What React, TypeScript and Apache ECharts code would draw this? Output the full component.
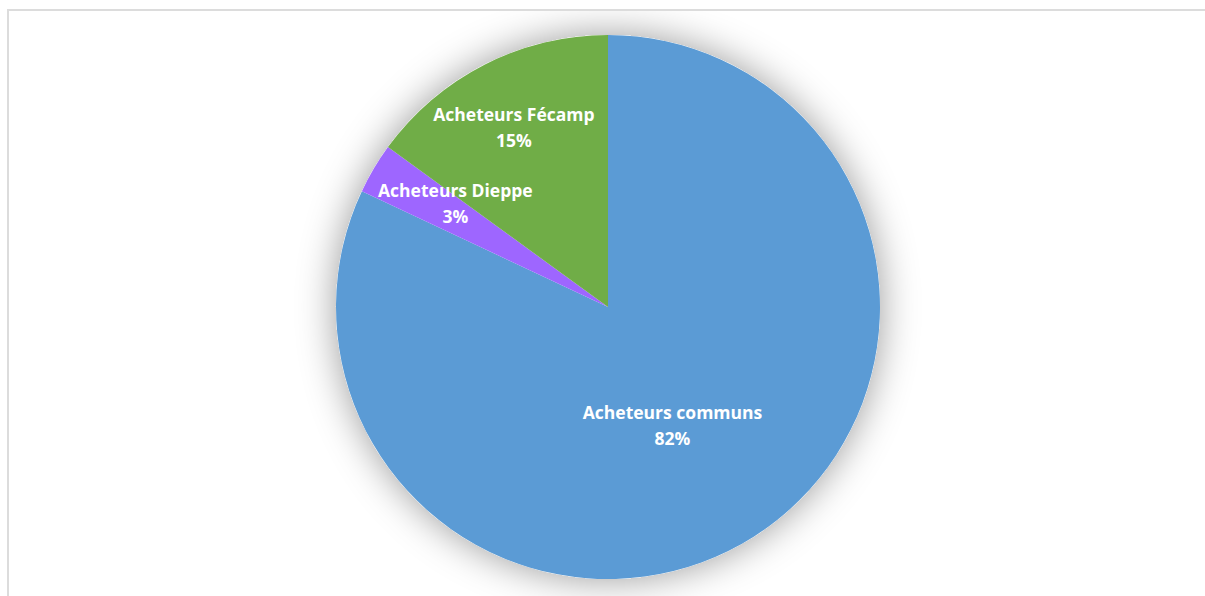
import React, { useEffect, useRef } from "react";
import * as echarts from "echarts";

const categories = ["Acheteurs communs", "Acheteurs Dieppe", "Acheteurs Fécamp"];
const values = [82, 3, 15];
const colors = ["#5B9BD5", "#9E66FF", "#70AD47"];
const labelOffsets: number[][] = [
  [-10, 1],
  [-33, -33],
  [-31, -56],
];

export default function App() {
  const ref = useRef<HTMLDivElement>(null);
  useEffect(() => {
    if (!ref.current) return;
    const chart = echarts.init(ref.current, undefined, { renderer: "svg" });
    chart.setOption({
      animation: false,
      backgroundColor: "#ffffff",
      series: [
        {
          type: "pie",
          silent: true,
          center: [599, 296],
          radius: 272,
          startAngle: 90,
          label: { show: false },
          labelLine: { show: false },
          itemStyle: {
            color: "#ffffff",
            shadowBlur: 38,
            shadowColor: "rgba(0,0,0,0.4)",
          },
          data: [{ value: 1, name: "" }],
          z: 1,
        },
        {
          type: "pie",
          center: [599, 296],
          radius: 272,
          startAngle: 90,
          clockwise: true,
          z: 2,
          label: {
            show: true,
            position: "inside",
            color: "#ffffff",
            fontFamily: "Open Sans",
            fontWeight: "bold",
            fontSize: 17.5,
            lineHeight: 26,
            formatter: (p: any) => `${p.name}\n${p.value}%`,
          },
          labelLine: { show: false },
          itemStyle: { borderWidth: 0 },
          data: categories.map((c, i) => ({
            name: c,
            value: values[i],
            itemStyle: { color: colors[i] },
            label: { offset: labelOffsets[i] },
          })),
        },
      ],
    });
    return () => chart.dispose();
  }, []);
  return (
    <div
      style={{
        position: "fixed",
        left: 0,
        top: 0,
        width: 1205,
        height: 596,
        overflow: "hidden",
        background: "#ffffff",
      }}
    >
      <div
        style={{
          position: "absolute",
          left: 7,
          top: 9,
          width: 1210,
          height: 600,
          border: "2px solid #dcdcdc",
        }}
      >
        <div ref={ref} style={{ width: 1210, height: 600 }} />
      </div>
    </div>
  );
}
